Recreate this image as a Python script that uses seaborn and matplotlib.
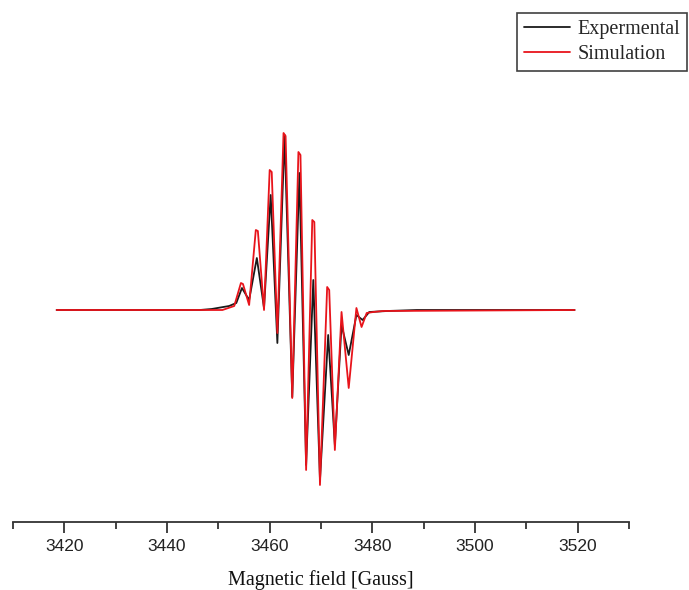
import numpy as np
import pandas as pd
import matplotlib
matplotlib.use("Agg")
import matplotlib.pyplot as plt
import seaborn as sns
from matplotlib.ticker import MultipleLocator

# Magnetic field (Gauss) and intensity (arb. units)
exp_field = [3418.5, 3446.4, 3448.7, 3452.1, 3453.5, 3454.6, 3456.0, 3457.5, 3458.9,
             3460.2, 3461.5, 3462.9, 3464.4, 3465.8, 3467.1, 3468.5, 3469.8, 3471.4,
             3472.7, 3474.0, 3475.4, 3476.9, 3478.1, 3479.4, 3482.9, 3488.7, 3519.4]
exp_signal = [0.00, 0.00, 0.01, 0.04, 0.07, 0.22, 0.10, 0.52, 0.02,
              1.15, -0.33, 1.75, -0.87, 1.37, -1.55, 0.30, -1.70, -0.25,
              -1.35, -0.15, -0.45, -0.05, -0.10, -0.02, -0.01, 0.00, 0.00]

sim_field = [3418.5, 3450.8, 3453.1, 3454.4, 3454.8, 3456.0, 3457.3, 3457.7, 3458.9,
             3460.0, 3460.4, 3461.5, 3462.7, 3463.1, 3464.4, 3465.6, 3466.0, 3467.1,
             3468.3, 3468.7, 3469.8, 3471.2, 3471.6, 3472.7, 3474.0, 3475.4, 3476.9,
             3477.9, 3478.9, 3480.2, 3482.1, 3519.4]
sim_signal = [0.00, 0.00, 0.04, 0.27, 0.26, 0.05, 0.80, 0.79, 0.00,
              1.40, 1.38, -0.23, 1.77, 1.74, -0.88, 1.58, 1.55, -1.60,
              0.90, 0.88, -1.75, 0.23, 0.20, -1.40, -0.02, -0.78, 0.02,
              -0.17, -0.03, -0.02, -0.01, 0.00]

series_names = ["Expermental", "Simulation"]
series_colors = ["#1a1a1a", "#e8141b"]
x_ticks = [3420, 3440, 3460, 3480, 3500, 3520]
x_label = "Magnetic field [Gauss]"

df_exp = pd.DataFrame({"field": exp_field, "signal": exp_signal, "series": series_names[0]})
df_sim = pd.DataFrame({"field": sim_field, "signal": sim_signal, "series": series_names[1]})

sns.set_style("white")
plt.rcParams["font.family"] = ["Liberation Serif", "DejaVu Serif"]

fig = plt.figure(figsize=(6.89, 5.90), dpi=100)
ax = fig.add_axes([13 / 689, (590 - 522) / 590, 616 / 689, 422 / 590])

sns.lineplot(data=df_exp, x="field", y="signal", color=series_colors[0], lw=1.3,
             ax=ax, label=series_names[0], sort=False, estimator=None)
sns.lineplot(data=df_sim, x="field", y="signal", color=series_colors[1], lw=1.3,
             ax=ax, label=series_names[1], sort=False, estimator=None)

ax.set_xlim(3410, 3530)
ax.set_ylim(-2.12, 2.10)
ax.set_xticks(x_ticks)
ax.xaxis.set_minor_locator(MultipleLocator(10))
ax.set_yticks([])
ax.set_ylabel("")
ax.set_xlabel(x_label, fontsize=14.5, labelpad=12, color="#111111")
for s in ["top", "left", "right"]:
    ax.spines[s].set_visible(False)
ax.spines["bottom"].set_color("#333333")
ax.spines["bottom"].set_linewidth(1.3)
ax.tick_params(axis="x", which="major", direction="out", length=8, width=1.3,
               color="#333333", bottom=True, pad=4)
ax.tick_params(axis="x", which="minor", direction="out", length=5, width=1.3,
               color="#333333", bottom=True)
for lab in ax.get_xticklabels():
    lab.set_family(["Liberation Sans Narrow", "Liberation Sans", "DejaVu Sans"])
    lab.set_fontsize(12.5)
    lab.set_color("#222222")

ax.get_legend().remove()
handles, labels = ax.get_legend_handles_labels()
leg = fig.legend(handles, labels, loc="upper left", bbox_to_anchor=(517 / 689, 1 - 13 / 590),
                 frameon=True, fancybox=False, fontsize=14.5, handlelength=2.3,
                 handletextpad=0.35, borderpad=0.35, labelspacing=0.3, borderaxespad=0)
leg.get_frame().set_edgecolor("#111111")
leg.get_frame().set_linewidth(1.2)

fig.savefig("out.png", dpi=100)
